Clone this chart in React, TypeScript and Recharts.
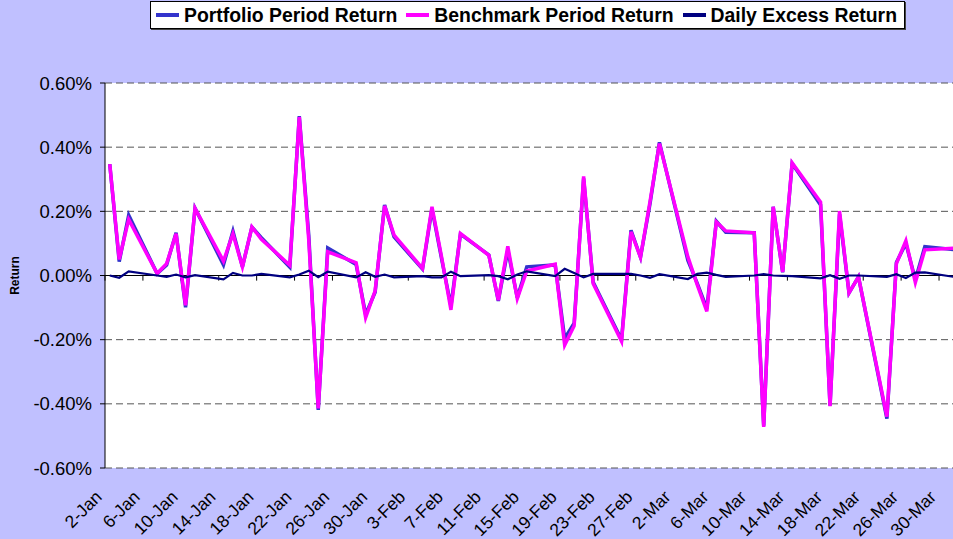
import React from "react";
import { LineChart, Line, XAxis, YAxis, CartesianGrid, ReferenceLine, Legend } from "recharts";

const dates = [
  "2008-01-02", "2008-01-03", "2008-01-04", "2008-01-07", "2008-01-08", "2008-01-09", "2008-01-10", "2008-01-11",
  "2008-01-14", "2008-01-15", "2008-01-16", "2008-01-17", "2008-01-18", "2008-01-21", "2008-01-22", "2008-01-23",
  "2008-01-24", "2008-01-25", "2008-01-28", "2008-01-29", "2008-01-30", "2008-01-31", "2008-02-01", "2008-02-04",
  "2008-02-05", "2008-02-06", "2008-02-07", "2008-02-08", "2008-02-11", "2008-02-12", "2008-02-13", "2008-02-14",
  "2008-02-15", "2008-02-18", "2008-02-19", "2008-02-20", "2008-02-21", "2008-02-22", "2008-02-25", "2008-02-26",
  "2008-02-27", "2008-02-28", "2008-02-29", "2008-03-03", "2008-03-04", "2008-03-05", "2008-03-06", "2008-03-07",
  "2008-03-10", "2008-03-11", "2008-03-12", "2008-03-13", "2008-03-14", "2008-03-17", "2008-03-18", "2008-03-19",
  "2008-03-20", "2008-03-21", "2008-03-24", "2008-03-25", "2008-03-26", "2008-03-27", "2008-03-28", "2008-03-31",
];

// values in percent
const benchmarkReturn = [
  0.347, 0.05, 0.175, 0.006, 0.037, 0.13, -0.093, 0.209,
  0.045, 0.13, 0.027, 0.151, 0.113, 0.032, 0.494, 0.11,
  -0.414, 0.074, 0.04, -0.131, -0.048, 0.217, 0.126, 0.022,
  0.214, 0.06, -0.107, 0.131, 0.063, -0.077, 0.091, -0.072,
  0.014, 0.035, -0.217, -0.157, 0.309, -0.025, -0.205, 0.136,
  0.057, 0.23, 0.411, 0.058, -0.03, -0.112, 0.167, 0.139,
  0.133, -0.472, 0.214, 0.011, 0.351, 0.229, -0.407, 0.201,
  -0.054, -0.004, -0.44, 0.037, 0.108, -0.022, 0.08, 0.085,
];

const portfolioReturn = [
  0.347, 0.043, 0.188, 0.006, 0.033, 0.133, -0.099, 0.21,
  0.033, 0.138, 0.027, 0.151, 0.118, 0.026, 0.497, 0.125,
  -0.419, 0.086, 0.034, -0.121, -0.052, 0.22, 0.12, 0.02,
  0.208, 0.054, -0.095, 0.129, 0.064, -0.079, 0.079, -0.069,
  0.027, 0.033, -0.196, -0.149, 0.303, -0.02, -0.2, 0.141,
  0.057, 0.223, 0.415, 0.047, -0.025, -0.103, 0.169, 0.135,
  0.133, -0.468, 0.214, 0.01, 0.349, 0.22, -0.406, 0.191,
  -0.054, -0.004, -0.446, 0.041, 0.1, -0.013, 0.09, 0.081,
];

const excessReturn = [
  0.0, -0.007, 0.013, 0.0, -0.004, 0.003, -0.006, 0.001,
  -0.012, 0.008, 0.0, 0.0, 0.005, -0.006, 0.003, 0.015,
  -0.005, 0.012, -0.006, 0.01, -0.004, 0.003, -0.006, -0.002,
  -0.006, -0.006, 0.012, -0.002, 0.001, -0.002, -0.012, 0.003,
  0.013, -0.002, 0.021, 0.008, -0.006, 0.005, 0.005, 0.005,
  0.0, -0.007, 0.004, -0.011, 0.005, 0.009, 0.002, -0.004,
  0.0, 0.004, 0.0, -0.001, -0.002, -0.009, 0.001, -0.01,
  0.0, 0.0, -0.004, 0.004, -0.008, 0.009, 0.01, -0.004,
];

const tickLabels = [
  "2-Jan", "6-Jan", "10-Jan", "14-Jan", "18-Jan", "22-Jan", "26-Jan", "30-Jan",
  "3-Feb", "7-Feb", "11-Feb", "15-Feb", "19-Feb", "23-Feb", "27-Feb",
  "2-Mar", "6-Mar", "10-Mar", "14-Mar", "18-Mar", "22-Mar", "26-Mar", "30-Mar",
];
const yTicks = [-0.6, -0.4, -0.2, 0, 0.2, 0.4, 0.6];

const START = Date.parse("2008-01-02");
const DAY = 86400000;
const data = dates.map((d, i) => ({
  day: (Date.parse(d) - START) / DAY + 0.5,
  portfolio: portfolioReturn[i],
  benchmark: benchmarkReturn[i],
  excess: excessReturn[i],
}));
const xTicks = tickLabels.map((_, i) => i * 4);

const FONT = "'Liberation Sans', Arial, Helvetica, sans-serif";

const legendItems = [
  { label: "Portfolio Period Return", color: "#3333CC" },
  { label: "Benchmark Period Return", color: "#FF00FF" },
  { label: "Daily Excess Return", color: "#000080" },
];

const renderLegend = () => (
  <div
    style={{
      boxSizing: "border-box",
      height: 28,
      width: 755,
      background: "#fff",
      border: "1px solid #000",
      boxShadow: "1px 1px 0 #444",
      display: "flex",
      alignItems: "center",
      paddingLeft: 5,
      fontFamily: FONT,
      fontWeight: "bold",
      fontSize: 19.4,
      color: "#000",
      whiteSpace: "nowrap",
    }}
  >
    {legendItems.map((it, i) => (
      <div key={it.label} style={{ display: "flex", alignItems: "center", marginLeft: i === 0 ? 0 : 9 }}>
        <span style={{ display: "inline-block", width: 23, height: 4, background: it.color, marginRight: 5 }} />
        <span>{it.label}</span>
      </div>
    ))}
  </div>
);

const XTick = (props: any) => {
  const { x, y, payload } = props;
  const label = tickLabels[Math.round(payload.value / 4)];
  return (
    <g transform={`translate(${x - 2},${y + 30})`}>
      <text x={0} y={0} textAnchor="end" transform="rotate(-45)" fontSize={17.5} fill="#000" fontFamily={FONT}>
        {label}
      </text>
    </g>
  );
};

export default function App() {
  return (
    <div
      style={{
        position: "absolute",
        left: 0,
        top: 0,
        width: 953,
        height: 539,
        overflow: "hidden",
        background: "#C0C0FF",
        fontFamily: FONT,
      }}
    >
      <LineChart width={970} height={539} data={data} margin={{ top: 55, right: 12, bottom: 0, left: 0 }}>
        <Legend
          verticalAlign="top"
          align="left"
          content={renderLegend}
          wrapperStyle={{ left: 150, top: 1, width: 755, height: 28 }}
        />
        <CartesianGrid horizontal vertical={false} stroke="#555" strokeDasharray="7 4" fill="#fff" />
        <XAxis
          type="number"
          dataKey="day"
          domain={[0, 90]}
          ticks={xTicks}
          interval={0}
          height={71}
          axisLine={false}
          tickLine={false}
          tickSize={0}
          tickMargin={0}
          tick={<XTick />}
          allowDataOverflow
        />
        <YAxis
          type="number"
          domain={[-0.6, 0.6]}
          ticks={yTicks}
          width={105}
          tickSize={5}
          tickMargin={8}
          tickFormatter={(v: number) => v.toFixed(2) + "%"}
          tick={{ fill: "#000", fontSize: 18.5, fontFamily: FONT }}
          axisLine={{ stroke: "#000", strokeWidth: 1 }}
          tickLine={{ stroke: "#000" }}
          label={{
            value: "Return",
            angle: -90,
            position: "insideLeft",
            offset: 15,
            style: { fontSize: 12, fontWeight: "bold", fill: "#000", textAnchor: "middle", fontFamily: FONT },
          }}
        />
        <ReferenceLine y={0} stroke="#000" strokeWidth={1.2} />
        {xTicks.map((t) => (
          <ReferenceLine
            key={t}
            segment={[
              { x: t, y: 0 },
              { x: t, y: -0.016 },
            ]}
            stroke="#000"
            strokeWidth={1}
          />
        ))}
        <Line type="linear" dataKey="portfolio" stroke="#3333CC" strokeWidth={3.5} dot={false} isAnimationActive={false} />
        <Line type="linear" dataKey="benchmark" stroke="#FF00FF" strokeWidth={3.5} dot={false} isAnimationActive={false} />
        <Line type="linear" dataKey="excess" stroke="#000080" strokeWidth={2.2} dot={false} isAnimationActive={false} />
      </LineChart>
    </div>
  );
}
